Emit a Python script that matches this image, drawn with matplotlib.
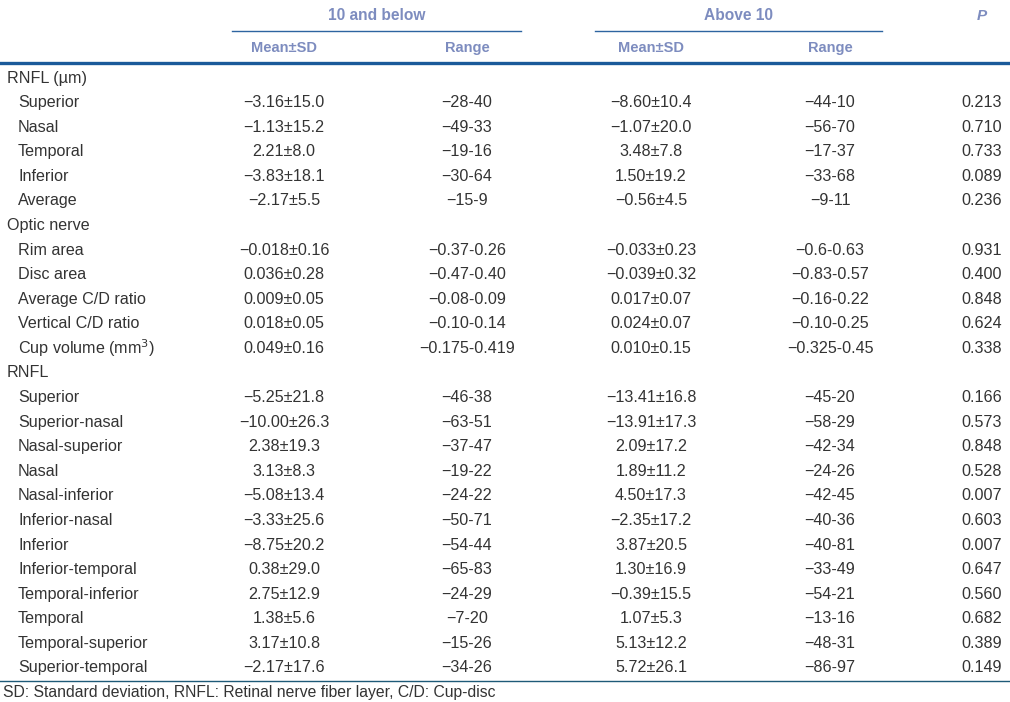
import matplotlib.pyplot as plt
from matplotlib.lines import Line2D

plt.rcParams['font.family'] = ['Liberation Sans', 'DejaVu Sans']

groups = ['10 and below', 'Above 10']
subheads = ['Mean±SD', 'Range', 'Mean±SD', 'Range']

labels = ['RNFL (µm)', 'Superior', 'Nasal', 'Temporal', 'Inferior', 'Average',
          'Optic nerve', 'Rim area', 'Disc area', 'Average C/D ratio',
          'Vertical C/D ratio', 'Cup volume (mm$^3$)', 'RNFL', 'Superior',
          'Superior-nasal', 'Nasal-superior', 'Nasal', 'Nasal-inferior',
          'Inferior-nasal', 'Inferior', 'Inferior-temporal', 'Temporal-inferior',
          'Temporal', 'Temporal-superior', 'Superior-temporal']
is_section = [True, False, False, False, False, False,
              True, False, False, False, False, False,
              True] + [False] * 12

mean_low = ['', '−3.16±15.0', '−1.13±15.2', '2.21±8.0', '−3.83±18.1', '−2.17±5.5',
            '', '−0.018±0.16', '0.036±0.28', '0.009±0.05', '0.018±0.05', '0.049±0.16',
            '', '−5.25±21.8', '−10.00±26.3', '2.38±19.3', '3.13±8.3', '−5.08±13.4',
            '−3.33±25.6', '−8.75±20.2', '0.38±29.0', '2.75±12.9', '1.38±5.6',
            '3.17±10.8', '−2.17±17.6']
range_low = ['', '−28-40', '−49-33', '−19-16', '−30-64', '−15-9',
             '', '−0.37-0.26', '−0.47-0.40', '−0.08-0.09', '−0.10-0.14', '−0.175-0.419',
             '', '−46-38', '−63-51', '−37-47', '−19-22', '−24-22',
             '−50-71', '−54-44', '−65-83', '−24-29', '−7-20',
             '−15-26', '−34-26']
mean_high = ['', '−8.60±10.4', '−1.07±20.0', '3.48±7.8', '1.50±19.2', '−0.56±4.5',
             '', '−0.033±0.23', '−0.039±0.32', '0.017±0.07', '0.024±0.07', '0.010±0.15',
             '', '−13.41±16.8', '−13.91±17.3', '2.09±17.2', '1.89±11.2', '4.50±17.3',
             '−2.35±17.2', '3.87±20.5', '1.30±16.9', '−0.39±15.5', '1.07±5.3',
             '5.13±12.2', '5.72±26.1']
range_high = ['', '−44-10', '−56-70', '−17-37', '−33-68', '−9-11',
              '', '−0.6-0.63', '−0.83-0.57', '−0.16-0.22', '−0.10-0.25', '−0.325-0.45',
              '', '−45-20', '−58-29', '−42-34', '−24-26', '−42-45',
              '−40-36', '−40-81', '−33-49', '−54-21', '−13-16',
              '−48-31', '−86-97']
p_values = ['', '0.213', '0.710', '0.733', '0.089', '0.236',
            '', '0.931', '0.400', '0.848', '0.624', '0.338',
            '', '0.166', '0.573', '0.848', '0.528', '0.007',
            '0.603', '0.007', '0.647', '0.560', '0.682',
            '0.389', '0.149']

footnote = 'SD: Standard deviation, RNFL: Retinal nerve fiber layer, C/D: Cup-disc'

W, H = 1010, 702
fig = plt.figure(figsize=(W / 100, H / 100), dpi=100)
fig.patch.set_facecolor('white')

def fx(x):
    return x / W

def fy(y):
    return 1 - y / H

head_color = '#7d8cbf'
body_color = '#333333'
fs = 11.6

# header
group_x = [377, 738]
for g, x in zip(groups, group_x):
    fig.text(fx(x), fy(16), g, ha='center', va='center', color=head_color,
             fontsize=11.2, fontweight='bold')
fig.text(fx(982), fy(16), 'P', ha='center', va='center', color=head_color,
         fontsize=11, fontweight='bold', style='italic')
col_x = [284, 467, 651, 830]
for s, x in zip(subheads, col_x):
    fig.text(fx(x), fy(48), s, ha='center', va='center', color=head_color,
             fontsize=10.5, fontweight='bold')

# rules
fig.add_artist(Line2D([fx(232), fx(521)], [fy(31), fy(31)], color='#2d64a0', lw=1.0))
fig.add_artist(Line2D([fx(595), fx(882)], [fy(31), fy(31)], color='#2d64a0', lw=1.0))
fig.add_artist(Line2D([0, 1], [fy(63), fy(63)], color='#1a5a9a', lw=2.4))
fig.add_artist(Line2D([0, 1], [fy(681), fy(681)], color='#1e5a78', lw=1.0))

# body
y0, dy = 78, 24.58
columns = [mean_low, range_low, mean_high, range_high]
for i, lab in enumerate(labels):
    y = y0 + i * dy
    lx = 7 if is_section[i] else 18
    fig.text(fx(lx), fy(y), lab, ha='left', va='center', color=body_color, fontsize=fs)
    for col, x in zip(columns, col_x):
        fig.text(fx(x), fy(y), col[i], ha='center', va='center', color=body_color,
                 fontsize=fs)
    fig.text(fx(1002), fy(y), p_values[i], ha='right', va='center', color=body_color,
             fontsize=fs)

fig.text(fx(3), fy(692), footnote, ha='left', va='center', color=body_color, fontsize=11.3)

plt.savefig('out.png', dpi=100)
